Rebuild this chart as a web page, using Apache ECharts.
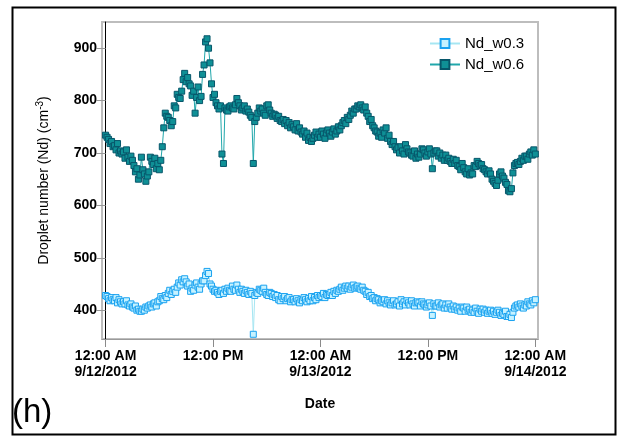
<!DOCTYPE html>
<html>
<head>
<meta charset="utf-8">
<script src="https://cdn.jsdelivr.net/npm/echarts@6/dist/echarts.min.js"></script>
<style>
html,body{margin:0;padding:0;background:#fff;}
#main{width:621px;height:438px;}
</style>
</head>
<body>
<div id="main"></div>
<script>
// Hours since 9/12/2012 12:00 AM, sampled every 10 minutes
const startHour = 0;
const stepHours = 1 / 6;
const xTickHours = [0, 12, 24, 36, 48];
const xTickLabels = ['12:00 AM\n9/12/2012', '12:00 PM', '12:00 AM\n9/13/2012', '12:00 PM', '12:00 AM\n9/14/2012'];
const yTicks = [400, 500, 600, 700, 800, 900];

const ndW03 = [
  428, 426, 422, 418, 424, 420,
  418, 424, 414, 420, 416, 412,
  416, 412, 418, 410, 408, 412,
  406, 404, 408, 400, 402, 398,
  398, 402, 400, 406, 404, 408,
  410, 406, 412, 414, 408, 416,
  418, 426, 422, 420, 428, 424,
  432, 438, 430, 436, 440, 434,
  444, 452, 448, 458, 454, 460,
  454, 446, 450, 436, 442, 438,
  448, 452, 444, 440, 450, 456,
  456, 466, 474, 470, 450, 446,
  440, 436, 438, 434, 430, 436,
  438, 432, 440, 436, 442, 438,
  436, 446, 440, 438, 448, 440,
  434, 440, 436, 432, 438, 434,
  430, 436, 432, 354, 428, 434,
  432, 440, 438, 436, 442, 434,
  430, 428, 434, 432, 426, 430,
  424, 428, 420, 418, 426, 422,
  426, 418, 422, 424, 416, 420,
  420, 416, 422, 418, 414, 420,
  418, 424, 420, 416, 422, 418,
  426, 418, 424, 420, 428, 424,
  428, 426, 432, 424, 430, 428,
  430, 434, 428, 436, 432, 438,
  436, 440, 444, 438, 442, 446,
  442, 446, 440, 444, 448, 442,
  444, 446, 442, 440, 444, 438,
  436, 430, 434, 426, 428, 422,
  424, 418, 422, 420, 414, 418,
  416, 420, 412, 418, 414, 410,
  414, 418, 410, 412, 416, 408,
  420, 412, 416, 410, 418, 414,
  410, 418, 412, 408, 414, 416,
  414, 408, 416, 412, 410, 406,
  410, 414, 408, 390, 412, 408,
  408, 414, 406, 410, 412, 404,
  410, 404, 412, 406, 402, 408,
  402, 406, 400, 404, 398, 406,
  404, 398, 406, 400, 402, 396,
  400, 396, 404, 398, 394, 402,
  398, 402, 396, 400, 394, 398,
  400, 394, 398, 392, 396, 400,
  396, 390, 394, 392, 398, 388,
  388, 392, 386, 396, 404, 408,
  410, 406, 412, 408, 404, 410,
  408, 416, 412, 410, 418, 414,
  420
];

const ndW06 = [
  734, 730, 726, 718, 722, 712,
  714, 706, 718, 700, 704, 698,
  702, 690, 706, 692, 684, 694,
  686, 676, 664, 670, 650, 658,
  692, 668, 660, 646, 656, 664,
  692, 684, 678, 690, 670, 680,
  668, 686, 712, 748, 776, 770,
  768, 762, 752, 760, 790, 786,
  812, 806, 804, 818, 840, 852,
  836, 844, 832, 828, 810, 818,
  776, 806, 826, 800, 808, 850,
  868, 912, 918, 900, 872, 832,
  806, 812, 796, 790, 784, 790,
  698, 680, 786, 782, 780, 788,
  790, 786, 784, 792, 804, 796,
  790, 782, 786, 790, 780, 784,
  778, 772, 768, 680, 760, 768,
  776, 786, 780, 784, 776, 772,
  790, 792, 782, 776, 770, 774,
  772, 766, 770, 762, 760, 764,
  756, 762, 752, 758, 748, 754,
  750, 744, 756, 742, 748, 740,
  736, 742, 730, 738, 724, 730,
  722, 728, 734, 740, 730, 736,
  730, 742, 736, 728, 738, 744,
  738, 732, 740, 746, 736, 742,
  750, 744, 752, 758, 762, 756,
  768, 764, 772, 780, 776, 784,
  784, 790, 788, 792, 786, 782,
  788, 776, 770, 760, 764, 752,
  748, 742, 740, 732, 738, 730,
  744, 738, 748, 728, 734, 722,
  716, 722, 712, 706, 710, 700,
  712, 704, 698, 716, 708, 702,
  700, 696, 694, 704, 690, 698,
  692, 698, 708, 706, 700, 694,
  702, 708, 698, 670, 700, 704,
  704, 694, 700, 690, 696, 686,
  696, 686, 690, 684, 680, 688,
  680, 686, 676, 674, 668, 680,
  672, 664, 660, 670, 658, 662,
  660, 676, 674, 684, 680, 676,
  678, 670, 668, 664, 660, 666,
  660, 650, 646, 642, 638, 648,
  660, 664, 656, 652, 644, 640,
  628, 626, 632, 662, 676, 680,
  682, 678, 684, 690, 686, 694,
  694, 688, 698, 702, 696, 706,
  698
];

function pairs(vals) {
  return vals.map((v, i) => [startHour + i * stepHours, v]);
}

const chart = echarts.init(document.getElementById('main'));
const FONT = '"Liberation Sans", Arial, sans-serif';

chart.setOption({
  animation: false,
  backgroundColor: '#fff',
  grid: {
    left: 102, top: 22, right: 83, bottom: 99,
    show: true, borderColor: '#bdbdbd', borderWidth: 2, backgroundColor: 'transparent'
  },
  legend: {
    orient: 'vertical',
    left: 424, top: 31,
    itemWidth: 30, itemHeight: 11, itemGap: 6,
    textStyle: { fontFamily: FONT, fontSize: 15, color: '#000' },
    data: ['Nd_w0.3', 'Nd_w0.6']
  },
  xAxis: {
    type: 'value',
    min: -0.4, max: 48.3,
    name: 'Date',
    nameLocation: 'middle',
    nameGap: 58,
    nameTextStyle: { fontFamily: FONT, fontSize: 14, fontWeight: 'bold', color: '#000' },
    axisLine: { show: true, onZero: false, lineStyle: { color: '#9a9a9a', width: 1 } },
    axisTick: { show: true, inside: false, length: 8, customValues: xTickHours, lineStyle: { color: '#8a8a8a' } },
    axisLabel: {
      customValues: xTickHours,
      margin: 9,
      fontFamily: FONT, fontSize: 14, fontWeight: 'bold', color: '#000', lineHeight: 16,
      formatter: function (v) {
        const idx = xTickHours.indexOf(Math.round(v));
        return idx >= 0 ? xTickLabels[idx] : '';
      }
    },
    splitLine: { show: false }
  },
  yAxis: {
    type: 'value',
    min: 345, max: 950,
    name: 'Droplet number (Nd) (cm{sup|-3})',
    nameLocation: 'middle',
    nameGap: 48,
    nameTextStyle: {
      fontFamily: FONT, fontSize: 14, color: '#000',
      rich: { sup: { fontFamily: FONT, fontSize: 10, color: '#000', padding: [0, 0, 9, 0] } }
    },
    axisLine: { show: true, lineStyle: { color: '#000', width: 1 } },
    axisTick: { show: true, inside: false, length: 9, customValues: yTicks, lineStyle: { color: '#9a9a9a' } },
    axisLabel: {
      customValues: yTicks,
      margin: 5,
      fontFamily: FONT, fontSize: 14, fontWeight: 'bold', color: '#000'
    },
    splitLine: { show: false }
  },
  graphic: [
    {
      type: 'rect', left: 10, top: 5, z: 100, silent: true,
      shape: { width: 603, height: 427 },
      style: { fill: 'none', stroke: '#000', lineWidth: 2 }
    },
    {
      type: 'text', left: 12, top: 396, z: 100,
      style: { text: '(h)', font: '33px "Liberation Sans", Arial, sans-serif', fill: '#000' }
    }
  ],
  series: [
    {
      name: 'Nd_w0.3',
      type: 'line',
      data: pairs(ndW03),
      symbol: 'rect',
      symbolSize: 6,
      showAllSymbol: true,
      lineStyle: { color: '#a6e6f2', width: 1 },
      itemStyle: { color: '#c6f2ff', borderColor: '#1aa2f0', borderWidth: 1 },
      z: 2
    },
    {
      name: 'Nd_w0.6',
      type: 'line',
      data: pairs(ndW06),
      symbol: 'rect',
      symbolSize: 6,
      showAllSymbol: true,
      lineStyle: { color: '#21a7ab', width: 1 },
      itemStyle: { color: '#0f9096', borderColor: '#07566a', borderWidth: 1 },
      z: 3
    }
  ]
});
</script>
</body>
</html>
